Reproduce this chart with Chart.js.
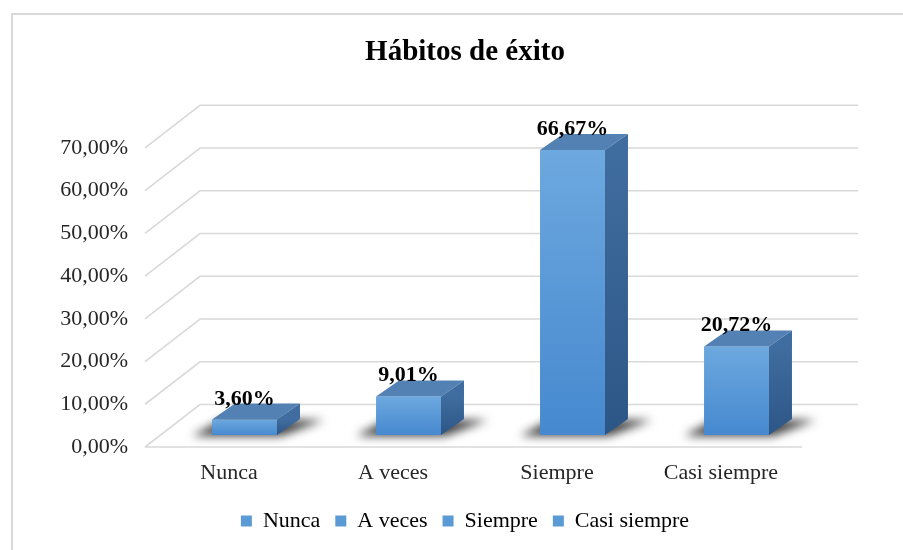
<!DOCTYPE html>
<html>
<head>
<meta charset="utf-8">
<script src="https://cdn.jsdelivr.net/npm/chart.js@4.4.1/dist/chart.umd.min.js"></script>
<style>
  html, body { margin: 0; padding: 0; background: #fff; }
  #wrap { width: 903px; height: 550px; position: relative; }
</style>
</head>
<body>
<div id="wrap"><canvas id="chart"></canvas></div>
<script>
const TITLE = "Hábitos de éxito";
const CATEGORIES = ["Nunca", "A veces", "Siempre", "Casi siempre"];
const VALUES = [3.60, 9.01, 66.67, 20.72];
const Y_TICKS = [0, 10, 20, 30, 40, 50, 60, 70];

const SERIF = "'Liberation Serif', 'Times New Roman', serif";
const C = {
  grid: "#d9d9d9",
  frontTop: "#6da8df",
  frontBottom: "#4689cf",
  top: "#5381b4",
  sideTop: "#406d9f",
  sideBottom: "#2c5686",
  legend: "#5b9bd5",
  text: "#262626",
};

// profondidad 3D: pared del fondo y caras de las barras
const WALL = { dx: 55, dy: -42.5 };
const BAR_SHIFT = { dx: 15.5, dy: -12 };
const BAR_DEPTH = { dx: 23, dy: -16 };

const fmtPct = (v, d = 2) => v.toFixed(d).replace(".", ",") + "%";

const frame3d = {
  id: "frame3d",
  beforeDraw(chart) {
    const ctx = chart.ctx;
    ctx.save();
    ctx.strokeStyle = C.grid;
    ctx.lineWidth = 2;
    ctx.strokeRect(12, 14, 1000, 1000);
    ctx.restore();
  },
  beforeDatasetsDraw(chart) {
    const { ctx, chartArea: a, scales: { y } } = chart;
    const x0 = a.left - 2;
    ctx.save();
    ctx.strokeStyle = C.grid;
    ctx.lineWidth = 1.6;
    ctx.beginPath();
    for (const v of Y_TICKS) {
      const fy = y.getPixelForValue(v);
      ctx.moveTo(x0, fy);
      ctx.lineTo(x0 + WALL.dx, fy + WALL.dy);
      ctx.lineTo(a.right + WALL.dx, fy + WALL.dy);
    }
    const y0 = y.getPixelForValue(0);
    ctx.moveTo(x0, y0);
    ctx.lineTo(a.right - 1, y0);
    ctx.stroke();

    // etiquetas del eje Y en el plano frontal
    ctx.fillStyle = C.text;
    ctx.font = "22px " + SERIF;
    ctx.textAlign = "right";
    ctx.textBaseline = "middle";
    for (const v of Y_TICKS) ctx.fillText(fmtPct(v), a.left - 19, y.getPixelForValue(v));
    ctx.restore();

    // sombras en el piso, luego las barras van desplazadas hacia el fondo
    ctx.save();
    ctx.translate(BAR_SHIFT.dx, BAR_SHIFT.dy);
    const meta = chart.getDatasetMeta(0);
    for (const el of meta.data) {
      const l = el.x - el.width / 2, r = el.x + el.width / 2, b = el.base;
      ctx.save();
      ctx.filter = "blur(5px)";
      ctx.fillStyle = "rgba(0,0,0,0.75)";
      ctx.beginPath();
      ctx.moveTo(l - 20, b + 1);
      ctx.lineTo(r + 4, b + 1);
      ctx.lineTo(r + BAR_DEPTH.dx + 24, b + BAR_DEPTH.dy + 1);
      ctx.lineTo(l + 10, b + BAR_DEPTH.dy + 1);
      ctx.closePath();
      ctx.fill();
      ctx.restore();
    }
  },
  afterDatasetsDraw(chart) {
    const ctx = chart.ctx;
    const meta = chart.getDatasetMeta(0);
    const { dx, dy } = BAR_DEPTH;
    meta.data.forEach((el, i) => {
      const l = el.x - el.width / 2, r = el.x + el.width / 2, t = el.y, b = el.base;
      // cara superior
      ctx.fillStyle = C.top;
      ctx.beginPath();
      ctx.moveTo(l, t);
      ctx.lineTo(r, t);
      ctx.lineTo(r + dx, t + dy);
      ctx.lineTo(l + dx, t + dy);
      ctx.closePath();
      ctx.fill();
      // cara lateral
      const g = ctx.createLinearGradient(0, t, 0, b);
      g.addColorStop(0, C.sideTop);
      g.addColorStop(1, C.sideBottom);
      ctx.fillStyle = g;
      ctx.beginPath();
      ctx.moveTo(r, t);
      ctx.lineTo(r + dx, t + dy);
      ctx.lineTo(r + dx, b + dy);
      ctx.lineTo(r, b);
      ctx.closePath();
      ctx.fill();
      // etiqueta
      ctx.fillStyle = "#000";
      ctx.font = "bold 22px " + SERIF;
      ctx.textAlign = "center";
      ctx.textBaseline = "alphabetic";
      ctx.fillText(fmtPct(VALUES[i]), el.x, t - 15);
    });
    ctx.restore();
  },
};

const cv = document.getElementById("chart");
new Chart(cv, {
  type: "bar",
  data: {
    labels: CATEGORIES,
    datasets: [{
      data: VALUES,
      backgroundColor: (c) => {
        const y = c.chart.scales.y;
        if (!y || c.dataIndex == null) return C.frontBottom;
        const top = y.getPixelForValue(VALUES[c.dataIndex]);
        const bot = y.getPixelForValue(0);
        const g = c.chart.ctx.createLinearGradient(0, top, 0, bot);
        g.addColorStop(0, C.frontTop);
        g.addColorStop(1, C.frontBottom);
        return g;
      },
      borderWidth: 0,
      categoryPercentage: 1,
      barPercentage: 0.396,
    }],
  },
  options: {
    responsive: true,
    maintainAspectRatio: false,
    animation: false,
    layout: { padding: { left: 127, right: 100, top: 0, bottom: 8 } },
    plugins: {
      title: {
        display: true,
        text: TITLE,
        color: "#000",
        font: { family: SERIF, size: 29, weight: "bold" },
        padding: { top: 35, bottom: 78 },
      },
      legend: {
        position: "bottom",
        labels: {
          color: C.text,
          font: { family: SERIF, size: 22 },
          boxWidth: 11,
          boxHeight: 11,
          padding: 15,
          generateLabels: () => CATEGORIES.map((name) => ({
            text: name,
            fillStyle: C.legend,
            strokeStyle: C.legend,
            lineWidth: 0,
          })),
        },
      },
      tooltip: { enabled: false },
    },
    scales: {
      x: {
        grid: { display: false, drawTicks: false },
        border: { display: false },
        ticks: { color: C.text, font: { family: SERIF, size: 22 }, padding: 13 },
        afterFit: (s) => { s.height = 48; },
      },
      y: {
        min: 0,
        max: 70,
        grid: { display: false, drawTicks: false },
        border: { display: false },
        afterBuildTicks: (s) => { s.ticks = Y_TICKS.map((v) => ({ value: v })); },
        ticks: { display: false },
        afterFit: (s) => { s.width = 20; },
      },
    },
  },
  plugins: [frame3d],
});
</script>
</body>
</html>
